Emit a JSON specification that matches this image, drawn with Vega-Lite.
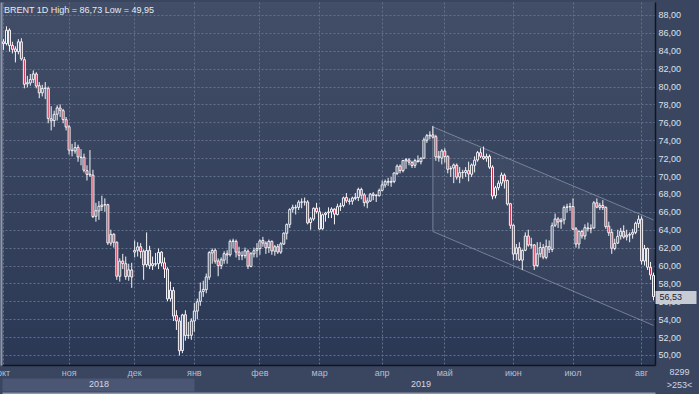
{
"$schema": "https://vega.github.io/schema/vega-lite/v6.json",
"width": 653, "height": 363,
"autosize": {"type": "none"},
"padding": {"left": 2, "top": 2, "right": 44, "bottom": 29},
"background": "#3a4660",
"view": {"stroke": null, "fill": {"gradient": "linear", "x1": 0, "y1": 0, "x2": 0, "y2": 1, "stops": [{"offset": 0, "color": "#424e67"}, {"offset": 1, "color": "#2b3855"}]}},
"title": {"text": "BRENT 1D High = 86,73 Low = 49,95", "anchor": "start", "frame": "group", "offset": -20, "dx": 2, "baseline": "alphabetic", "font": "Liberation Sans", "fontSize": 9, "fontWeight": "normal", "color": "#e6eaf0"},
"config": {"font": "Liberation Sans", "axis": {"labelFont": "Liberation Sans", "titleFont": "Liberation Sans", "labelFontSize": 9}},
"datasets": {
"chan": [{"d": "2019-04-25", "u": 75.5, "lo": 63.8}, {"d": "2019-08-07", "u": 65.1, "lo": 53.3}],
"lines": [{"d": "2019-04-25", "d2": "2019-08-07", "v": 75.5, "v2": 65.1}, {"d": "2019-04-25", "d2": "2019-08-07", "v": 63.8, "v2": 53.3}, {"d": "2019-04-25", "d2": "2019-04-25", "v": 75.5, "v2": 63.8}],
"ohlc": [
{"d":"2018-10-02","o":85.0,"h":85.3,"l":84.1,"c":84.8},
{"d":"2018-10-03","o":84.8,"h":86.73,"l":84.6,"c":86.29},
{"d":"2018-10-04","o":86.3,"h":86.5,"l":83.9,"c":84.58},
{"d":"2018-10-05","o":84.6,"h":85.0,"l":83.7,"c":84.16},
{"d":"2018-10-08","o":84.2,"h":84.5,"l":82.7,"c":83.91},
{"d":"2018-10-09","o":83.9,"h":85.3,"l":83.6,"c":85.0},
{"d":"2018-10-10","o":85.0,"h":85.4,"l":82.9,"c":83.09},
{"d":"2018-10-11","o":83.0,"h":83.3,"l":79.8,"c":80.26},
{"d":"2018-10-12","o":80.3,"h":81.2,"l":79.9,"c":80.43},
{"d":"2018-10-15","o":80.4,"h":81.4,"l":80.1,"c":80.78},
{"d":"2018-10-16","o":80.8,"h":81.8,"l":80.4,"c":81.41},
{"d":"2018-10-17","o":81.4,"h":81.6,"l":79.8,"c":80.05},
{"d":"2018-10-18","o":80.1,"h":80.5,"l":78.7,"c":79.29},
{"d":"2018-10-19","o":79.3,"h":80.2,"l":78.9,"c":79.78},
{"d":"2018-10-22","o":79.8,"h":80.5,"l":78.6,"c":79.83},
{"d":"2018-10-23","o":79.8,"h":80.0,"l":75.9,"c":76.44},
{"d":"2018-10-24","o":76.4,"h":77.8,"l":75.1,"c":76.17},
{"d":"2018-10-25","o":76.2,"h":77.3,"l":75.5,"c":76.89},
{"d":"2018-10-26","o":76.9,"h":77.9,"l":76.2,"c":77.62},
{"d":"2018-10-29","o":77.6,"h":78.0,"l":76.6,"c":77.34},
{"d":"2018-10-30","o":77.3,"h":77.5,"l":75.9,"c":76.31},
{"d":"2018-10-31","o":76.3,"h":76.6,"l":75.1,"c":75.47},
{"d":"2018-11-01","o":75.5,"h":75.7,"l":72.4,"c":72.89},
{"d":"2018-11-02","o":72.9,"h":73.6,"l":72.2,"c":72.83},
{"d":"2018-11-05","o":72.8,"h":73.8,"l":72.5,"c":73.17},
{"d":"2018-11-06","o":73.2,"h":73.5,"l":71.6,"c":72.13},
{"d":"2018-11-07","o":72.1,"h":73.0,"l":71.2,"c":72.07},
{"d":"2018-11-08","o":72.1,"h":72.5,"l":70.4,"c":70.65},
{"d":"2018-11-09","o":70.6,"h":71.2,"l":69.5,"c":70.18},
{"d":"2018-11-12","o":70.2,"h":72.9,"l":69.9,"c":70.12},
{"d":"2018-11-13","o":70.1,"h":70.7,"l":65.3,"c":65.47},
{"d":"2018-11-14","o":65.5,"h":67.0,"l":64.9,"c":66.12},
{"d":"2018-11-15","o":66.1,"h":67.2,"l":65.1,"c":66.62},
{"d":"2018-11-16","o":66.6,"h":67.8,"l":66.1,"c":66.76},
{"d":"2018-11-19","o":66.8,"h":67.5,"l":66.0,"c":66.79},
{"d":"2018-11-20","o":66.8,"h":66.9,"l":62.3,"c":62.53},
{"d":"2018-11-21","o":62.5,"h":64.0,"l":62.2,"c":63.48},
{"d":"2018-11-22","o":63.5,"h":63.6,"l":62.0,"c":62.6},
{"d":"2018-11-23","o":62.6,"h":62.7,"l":58.4,"c":58.8},
{"d":"2018-11-26","o":58.8,"h":60.8,"l":58.2,"c":60.48},
{"d":"2018-11-27","o":60.5,"h":61.3,"l":59.6,"c":60.21},
{"d":"2018-11-28","o":60.2,"h":61.0,"l":58.4,"c":58.76},
{"d":"2018-11-29","o":58.8,"h":60.2,"l":58.3,"c":59.51},
{"d":"2018-11-30","o":59.5,"h":60.3,"l":57.5,"c":58.71},
{"d":"2018-12-03","o":61.5,"h":62.8,"l":60.9,"c":61.69},
{"d":"2018-12-04","o":61.7,"h":62.6,"l":61.0,"c":62.08},
{"d":"2018-12-05","o":62.1,"h":62.5,"l":60.8,"c":61.56},
{"d":"2018-12-06","o":61.6,"h":61.8,"l":58.4,"c":60.06},
{"d":"2018-12-07","o":60.1,"h":63.7,"l":59.8,"c":61.67},
{"d":"2018-12-10","o":61.7,"h":62.2,"l":59.6,"c":59.97},
{"d":"2018-12-11","o":60.0,"h":61.0,"l":59.5,"c":60.2},
{"d":"2018-12-12","o":60.2,"h":61.4,"l":59.9,"c":60.15},
{"d":"2018-12-13","o":60.2,"h":61.9,"l":59.6,"c":61.45},
{"d":"2018-12-14","o":61.5,"h":61.6,"l":59.9,"c":60.28},
{"d":"2018-12-17","o":60.3,"h":60.9,"l":58.6,"c":59.61},
{"d":"2018-12-18","o":59.6,"h":59.8,"l":56.0,"c":56.26},
{"d":"2018-12-19","o":56.3,"h":58.2,"l":56.0,"c":57.24},
{"d":"2018-12-20","o":57.2,"h":57.6,"l":53.8,"c":54.35},
{"d":"2018-12-21","o":54.4,"h":55.0,"l":52.8,"c":53.82},
{"d":"2018-12-24","o":53.8,"h":54.2,"l":49.95,"c":50.47},
{"d":"2018-12-26","o":50.5,"h":54.6,"l":50.2,"c":54.47},
{"d":"2018-12-27","o":54.5,"h":55.0,"l":51.6,"c":52.16},
{"d":"2018-12-28","o":52.2,"h":53.7,"l":51.8,"c":52.2},
{"d":"2018-12-31","o":52.2,"h":54.1,"l":51.7,"c":53.8},
{"d":"2019-01-02","o":53.8,"h":55.8,"l":52.6,"c":54.91},
{"d":"2019-01-03","o":54.9,"h":56.3,"l":54.0,"c":55.95},
{"d":"2019-01-04","o":56.0,"h":58.1,"l":55.5,"c":57.06},
{"d":"2019-01-07","o":57.1,"h":58.3,"l":56.5,"c":57.33},
{"d":"2019-01-08","o":57.3,"h":59.1,"l":56.9,"c":58.72},
{"d":"2019-01-09","o":58.7,"h":61.6,"l":58.4,"c":61.44},
{"d":"2019-01-10","o":61.4,"h":61.9,"l":60.2,"c":61.68},
{"d":"2019-01-11","o":61.7,"h":61.9,"l":60.2,"c":60.48},
{"d":"2019-01-14","o":60.5,"h":60.8,"l":58.8,"c":59.99},
{"d":"2019-01-15","o":60.0,"h":60.9,"l":59.6,"c":60.64},
{"d":"2019-01-16","o":60.6,"h":61.6,"l":60.2,"c":61.32},
{"d":"2019-01-17","o":61.3,"h":61.7,"l":60.2,"c":61.18},
{"d":"2019-01-18","o":61.2,"h":62.9,"l":61.0,"c":62.7},
{"d":"2019-01-21","o":62.7,"h":63.0,"l":61.9,"c":62.74},
{"d":"2019-01-22","o":62.7,"h":62.9,"l":60.9,"c":61.5},
{"d":"2019-01-23","o":61.5,"h":62.1,"l":60.6,"c":61.14},
{"d":"2019-01-24","o":61.1,"h":61.6,"l":60.6,"c":61.09},
{"d":"2019-01-25","o":61.1,"h":62.0,"l":60.8,"c":61.64},
{"d":"2019-01-28","o":61.6,"h":61.8,"l":59.6,"c":59.93},
{"d":"2019-01-29","o":59.9,"h":61.5,"l":59.8,"c":61.32},
{"d":"2019-01-30","o":61.3,"h":62.0,"l":60.9,"c":61.65},
{"d":"2019-01-31","o":61.7,"h":62.5,"l":60.9,"c":61.89},
{"d":"2019-02-01","o":61.9,"h":62.9,"l":61.2,"c":62.75},
{"d":"2019-02-04","o":62.8,"h":63.2,"l":62.1,"c":62.51},
{"d":"2019-02-05","o":62.5,"h":62.7,"l":61.3,"c":61.98},
{"d":"2019-02-06","o":62.0,"h":62.9,"l":61.4,"c":62.69},
{"d":"2019-02-07","o":62.7,"h":62.8,"l":61.2,"c":61.63},
{"d":"2019-02-08","o":61.6,"h":62.3,"l":61.1,"c":62.1},
{"d":"2019-02-11","o":62.1,"h":62.4,"l":61.3,"c":61.51},
{"d":"2019-02-12","o":61.5,"h":62.6,"l":61.3,"c":62.42},
{"d":"2019-02-13","o":62.4,"h":63.7,"l":62.3,"c":63.61},
{"d":"2019-02-14","o":63.6,"h":64.7,"l":62.9,"c":64.57},
{"d":"2019-02-15","o":64.6,"h":66.4,"l":64.2,"c":66.25},
{"d":"2019-02-18","o":66.3,"h":66.8,"l":65.9,"c":66.5},
{"d":"2019-02-19","o":66.5,"h":66.8,"l":65.7,"c":66.45},
{"d":"2019-02-20","o":66.5,"h":67.3,"l":66.2,"c":67.08},
{"d":"2019-02-21","o":67.1,"h":67.5,"l":66.4,"c":67.07},
{"d":"2019-02-22","o":67.1,"h":67.6,"l":66.7,"c":67.12},
{"d":"2019-02-25","o":67.1,"h":67.3,"l":64.6,"c":64.76},
{"d":"2019-02-26","o":64.8,"h":65.4,"l":64.0,"c":65.21},
{"d":"2019-02-27","o":65.2,"h":66.5,"l":65.0,"c":66.39},
{"d":"2019-02-28","o":66.4,"h":67.0,"l":65.8,"c":66.03},
{"d":"2019-03-01","o":66.0,"h":66.5,"l":64.0,"c":64.07},
{"d":"2019-03-04","o":64.1,"h":65.8,"l":64.0,"c":65.67},
{"d":"2019-03-05","o":65.7,"h":66.0,"l":64.9,"c":65.86},
{"d":"2019-03-06","o":65.9,"h":66.5,"l":65.3,"c":65.99},
{"d":"2019-03-07","o":66.0,"h":66.5,"l":65.3,"c":66.3},
{"d":"2019-03-08","o":66.3,"h":66.4,"l":64.6,"c":65.74},
{"d":"2019-03-11","o":65.7,"h":66.9,"l":65.6,"c":66.58},
{"d":"2019-03-12","o":66.6,"h":67.0,"l":66.1,"c":66.67},
{"d":"2019-03-13","o":66.7,"h":67.7,"l":66.5,"c":67.55},
{"d":"2019-03-14","o":67.6,"h":68.1,"l":67.0,"c":67.23},
{"d":"2019-03-15","o":67.2,"h":67.5,"l":66.8,"c":67.16},
{"d":"2019-03-18","o":67.2,"h":67.7,"l":66.8,"c":67.54},
{"d":"2019-03-19","o":67.5,"h":68.1,"l":67.3,"c":67.61},
{"d":"2019-03-20","o":67.6,"h":68.7,"l":67.2,"c":68.5},
{"d":"2019-03-21","o":68.5,"h":68.7,"l":67.4,"c":67.86},
{"d":"2019-03-22","o":67.9,"h":68.1,"l":66.6,"c":67.03},
{"d":"2019-03-25","o":67.0,"h":67.6,"l":66.4,"c":67.21},
{"d":"2019-03-26","o":67.2,"h":68.1,"l":67.1,"c":67.97},
{"d":"2019-03-27","o":68.0,"h":68.2,"l":67.3,"c":67.83},
{"d":"2019-03-28","o":67.8,"h":68.0,"l":67.1,"c":67.82},
{"d":"2019-03-29","o":67.8,"h":68.6,"l":67.7,"c":68.39},
{"d":"2019-04-01","o":68.4,"h":69.5,"l":68.3,"c":69.01},
{"d":"2019-04-02","o":69.0,"h":69.6,"l":68.7,"c":69.37},
{"d":"2019-04-03","o":69.4,"h":69.8,"l":68.9,"c":69.31},
{"d":"2019-04-04","o":69.3,"h":69.9,"l":68.8,"c":69.4},
{"d":"2019-04-05","o":69.4,"h":70.4,"l":69.2,"c":70.34},
{"d":"2019-04-08","o":70.3,"h":71.3,"l":70.1,"c":71.1},
{"d":"2019-04-09","o":71.1,"h":71.3,"l":70.3,"c":70.61},
{"d":"2019-04-10","o":70.6,"h":71.8,"l":70.4,"c":71.73},
{"d":"2019-04-11","o":71.7,"h":72.0,"l":70.8,"c":71.83},
{"d":"2019-04-12","o":71.8,"h":72.0,"l":71.2,"c":71.55},
{"d":"2019-04-15","o":71.5,"h":71.7,"l":70.9,"c":71.18},
{"d":"2019-04-16","o":71.2,"h":71.9,"l":70.9,"c":71.72},
{"d":"2019-04-17","o":71.7,"h":72.3,"l":71.5,"c":71.62},
{"d":"2019-04-18","o":71.6,"h":72.1,"l":71.3,"c":71.97},
{"d":"2019-04-22","o":72.0,"h":74.3,"l":71.9,"c":74.04},
{"d":"2019-04-23","o":74.0,"h":74.7,"l":73.7,"c":74.51},
{"d":"2019-04-24","o":74.5,"h":75.0,"l":74.1,"c":74.57},
{"d":"2019-04-25","o":74.6,"h":75.6,"l":74.2,"c":74.35},
{"d":"2019-04-26","o":74.4,"h":74.6,"l":71.7,"c":72.15},
{"d":"2019-04-29","o":72.2,"h":72.8,"l":71.6,"c":72.04},
{"d":"2019-04-30","o":72.0,"h":73.0,"l":71.3,"c":72.8},
{"d":"2019-05-01","o":72.8,"h":73.1,"l":71.5,"c":72.18},
{"d":"2019-05-02","o":72.2,"h":72.3,"l":70.3,"c":70.75},
{"d":"2019-05-03","o":70.8,"h":71.1,"l":69.9,"c":70.85},
{"d":"2019-05-06","o":70.9,"h":71.4,"l":69.2,"c":71.24},
{"d":"2019-05-07","o":71.2,"h":71.4,"l":69.6,"c":69.88},
{"d":"2019-05-08","o":69.9,"h":71.0,"l":69.2,"c":70.37},
{"d":"2019-05-09","o":70.4,"h":70.7,"l":69.7,"c":70.39},
{"d":"2019-05-10","o":70.4,"h":71.0,"l":69.9,"c":70.62},
{"d":"2019-05-13","o":70.6,"h":71.6,"l":69.4,"c":70.23},
{"d":"2019-05-14","o":70.2,"h":71.4,"l":69.9,"c":71.24},
{"d":"2019-05-15","o":71.2,"h":72.2,"l":70.4,"c":71.77},
{"d":"2019-05-16","o":71.8,"h":72.8,"l":71.6,"c":72.62},
{"d":"2019-05-17","o":72.6,"h":73.1,"l":72.0,"c":72.21},
{"d":"2019-05-20","o":72.2,"h":73.3,"l":71.8,"c":71.97},
{"d":"2019-05-21","o":72.0,"h":72.5,"l":71.6,"c":72.18},
{"d":"2019-05-22","o":72.2,"h":72.4,"l":70.8,"c":70.99},
{"d":"2019-05-23","o":71.0,"h":71.2,"l":67.4,"c":67.76},
{"d":"2019-05-24","o":67.8,"h":68.9,"l":67.5,"c":68.69},
{"d":"2019-05-27","o":68.7,"h":69.5,"l":68.4,"c":69.2},
{"d":"2019-05-28","o":69.2,"h":70.4,"l":68.9,"c":70.11},
{"d":"2019-05-29","o":70.1,"h":70.3,"l":68.6,"c":69.45},
{"d":"2019-05-30","o":69.5,"h":69.6,"l":66.7,"c":66.87},
{"d":"2019-05-31","o":66.9,"h":67.0,"l":64.1,"c":64.49},
{"d":"2019-06-03","o":64.5,"h":64.6,"l":60.6,"c":61.28},
{"d":"2019-06-04","o":61.3,"h":62.4,"l":60.6,"c":61.97},
{"d":"2019-06-05","o":62.0,"h":62.6,"l":60.5,"c":60.63},
{"d":"2019-06-06","o":60.6,"h":61.8,"l":59.5,"c":61.67},
{"d":"2019-06-07","o":61.7,"h":63.7,"l":61.6,"c":63.29},
{"d":"2019-06-10","o":63.3,"h":64.0,"l":62.1,"c":62.29},
{"d":"2019-06-11","o":62.3,"h":63.1,"l":61.9,"c":62.29},
{"d":"2019-06-12","o":62.3,"h":62.4,"l":59.5,"c":59.97},
{"d":"2019-06-13","o":60.0,"h":62.6,"l":59.8,"c":61.31},
{"d":"2019-06-14","o":61.3,"h":62.6,"l":60.9,"c":62.01},
{"d":"2019-06-17","o":62.0,"h":62.4,"l":60.7,"c":60.94},
{"d":"2019-06-18","o":60.9,"h":62.9,"l":60.7,"c":62.14},
{"d":"2019-06-19","o":62.1,"h":62.8,"l":61.4,"c":61.82},
{"d":"2019-06-20","o":61.8,"h":64.8,"l":61.5,"c":64.45},
{"d":"2019-06-21","o":64.5,"h":65.8,"l":64.3,"c":65.2},
{"d":"2019-06-24","o":65.2,"h":65.4,"l":64.2,"c":64.86},
{"d":"2019-06-25","o":64.9,"h":65.3,"l":64.1,"c":65.05},
{"d":"2019-06-26","o":65.1,"h":66.7,"l":64.6,"c":66.49},
{"d":"2019-06-27","o":66.5,"h":66.9,"l":65.9,"c":66.55},
{"d":"2019-06-28","o":66.6,"h":67.0,"l":66.1,"c":66.55},
{"d":"2019-07-01","o":66.6,"h":67.5,"l":64.0,"c":64.06},
{"d":"2019-07-02","o":64.1,"h":64.3,"l":62.0,"c":62.4},
{"d":"2019-07-03","o":62.4,"h":63.9,"l":61.9,"c":63.82},
{"d":"2019-07-04","o":63.8,"h":64.0,"l":63.0,"c":63.3},
{"d":"2019-07-05","o":63.3,"h":64.6,"l":62.9,"c":64.23},
{"d":"2019-07-08","o":64.2,"h":64.8,"l":63.8,"c":64.11},
{"d":"2019-07-09","o":64.1,"h":64.6,"l":63.6,"c":64.16},
{"d":"2019-07-10","o":64.2,"h":67.2,"l":64.1,"c":67.01},
{"d":"2019-07-11","o":67.0,"h":67.5,"l":66.4,"c":66.52},
{"d":"2019-07-12","o":66.5,"h":67.0,"l":66.2,"c":66.72},
{"d":"2019-07-15","o":66.7,"h":67.3,"l":66.2,"c":66.48},
{"d":"2019-07-16","o":66.5,"h":66.6,"l":64.1,"c":64.35},
{"d":"2019-07-17","o":64.4,"h":64.9,"l":63.3,"c":63.66},
{"d":"2019-07-18","o":63.7,"h":64.1,"l":61.3,"c":61.93},
{"d":"2019-07-19","o":61.9,"h":63.0,"l":61.7,"c":62.47},
{"d":"2019-07-22","o":62.5,"h":64.0,"l":62.4,"c":63.26},
{"d":"2019-07-23","o":63.3,"h":64.2,"l":62.9,"c":63.83},
{"d":"2019-07-24","o":63.8,"h":64.5,"l":63.0,"c":63.18},
{"d":"2019-07-25","o":63.2,"h":64.0,"l":62.8,"c":63.39},
{"d":"2019-07-26","o":63.4,"h":63.7,"l":62.6,"c":63.46},
{"d":"2019-07-29","o":63.5,"h":64.1,"l":63.0,"c":63.71},
{"d":"2019-07-30","o":63.7,"h":64.9,"l":63.5,"c":64.72},
{"d":"2019-07-31","o":64.7,"h":65.6,"l":64.2,"c":65.17},
{"d":"2019-08-01","o":65.2,"h":65.5,"l":60.1,"c":60.5},
{"d":"2019-08-02","o":60.5,"h":62.3,"l":60.0,"c":61.89},
{"d":"2019-08-05","o":61.9,"h":62.0,"l":59.5,"c":59.81},
{"d":"2019-08-06","o":59.8,"h":60.4,"l":58.4,"c":58.94},
{"d":"2019-08-07","o":58.9,"h":59.2,"l":56.1,"c":56.53}
]},
"resolve": {"axis": {"x": "independent", "y": "independent"}},
"layer": [
{"data": {"name": "chan"}, "mark": {"type": "area", "color": "#ffffff", "opacity": 0.035},
 "encoding": {
  "x": {"field": "d", "type": "ordinal", "scale": {"type": "band", "paddingInner": 0, "paddingOuter": 0},
        "axis": {"orient": "bottom", "offset": 28, "domain": true, "domainColor": "#8e98aa", "domainWidth": 2, "labels": false, "ticks": false, "grid": false, "title": null}},
  "y": {"field": "u", "type": "quantitative", "scale": {"domain": [48.88, 89.45], "nice": false, "zero": false},
        "axis": {"orient": "left", "offset": 1, "domain": true, "domainColor": "#8e98aa", "domainWidth": 2, "labels": false, "ticks": false, "grid": false, "title": null}},
  "y2": {"field": "lo"}}},
{"data": {"name": "lines"}, "mark": {"type": "rule", "color": "#aab2c2", "opacity": 0.55, "strokeWidth": 1},
 "encoding": {
  "x": {"field": "d", "type": "ordinal", "scale": {"type": "band", "paddingInner": 0, "paddingOuter": 0}, "axis": null},
  "x2": {"field": "d2"},
  "y": {"field": "v", "type": "quantitative", "scale": {"domain": [48.88, 89.45], "nice": false, "zero": false}, "axis": null},
  "y2": {"field": "v2"}}},
{"data": {"name": "ohlc"}, "mark": {"type": "rule", "color": "#f2f4f7", "strokeWidth": 1},
 "encoding": {
  "x": {"field": "d", "type": "ordinal", "scale": {"type": "band", "paddingInner": 0, "paddingOuter": 0},
        "axis": {"orient": "bottom", "values": ["2018-10-02","2018-11-01","2018-12-03","2019-01-02","2019-02-01","2019-03-01","2019-04-01","2019-05-01","2019-06-03","2019-07-01","2019-08-01"],
                 "labelExpr": "['янв','фев','мар','апр','май','июн','июл','авг','сен','окт','ноя','дек'][toNumber(substring(datum.value,5,7))-1]",
                 "grid": true, "gridColor": "#64708a", "gridDash": [2, 2], "ticks": false, "domainColor": "#11151d", "domainWidth": 1.5,
                 "labelColor": "#b4bece", "labelPadding": 3, "labelFontSize": 9, "labelAngle": 0, "labelOverlap": false, "labelFlush": false, "title": null}},
  "y": {"field": "l", "type": "quantitative", "scale": {"domain": [48.88, 89.45], "nice": false, "zero": false},
        "axis": {"orient": "right", "values": [50,52,54,56,58,60,62,64,66,68,70,72,74,76,78,80,82,84,86,88],
                 "labelExpr": "replace(format(datum.value, '.2f'), '.', ',')",
                 "grid": true, "gridColor": "#64708a", "gridDash": [2, 2], "ticks": false, "domainColor": "#11151d", "domainWidth": 1.5,
                 "labelColor": "#dde2ea", "labelPadding": 3, "labelFontSize": 9, "labelOverlap": false,
                 "title": ["8299", ">253<"], "titleAngle": 0, "titleX": 24, "titleY": 372, "titleAlign": "center", "titleBaseline": "alphabetic",
                 "titleFontSize": 9, "titleFontWeight": "normal", "titleColor": "#d0d6e0", "titleLineHeight": 13}},
  "y2": {"field": "h"}}},
{"data": {"name": "ohlc"}, "mark": {"type": "bar", "size": 2, "stroke": "#f2f4f7", "strokeWidth": 1},
 "encoding": {
  "x": {"field": "d", "type": "ordinal", "scale": {"type": "band", "paddingInner": 0, "paddingOuter": 0},
        "axis": {"orient": "bottom", "offset": 13, "values": ["2018-11-15", "2019-04-18"], "labelExpr": "substring(datum.value, 0, 4)",
                 "grid": false, "domain": false, "ticks": true, "tickSize": 13, "tickWidth": 192,
                 "tickColor": {"condition": {"test": "datum.value == '2018-11-15'", "value": "#4a5673"}, "value": "rgba(0,0,0,0)"},
                 "labelPadding": -12, "labelColor": "#d3d9e3", "labelFontSize": 9, "labelAngle": 0, "labelOverlap": false, "title": null}},
  "y": {"field": "o", "type": "quantitative", "scale": {"domain": [48.88, 89.45], "nice": false, "zero": false},
        "axis": {"orient": "right", "values": [56.53], "labelExpr": "replace(format(datum.value, '.2f'), '.', ',')",
                 "grid": false, "domain": false, "ticks": true, "tickSize": 41, "tickWidth": 13, "tickColor": "#c7cbd3",
                 "labelPadding": -37, "labelColor": "#1c2233", "labelFontSize": 9, "title": null}},
  "y2": {"field": "c"},
  "fill": {"condition": {"test": "datum.c < datum.o", "value": "#c62a47"}, "value": "#33405c"}}}
]
}
